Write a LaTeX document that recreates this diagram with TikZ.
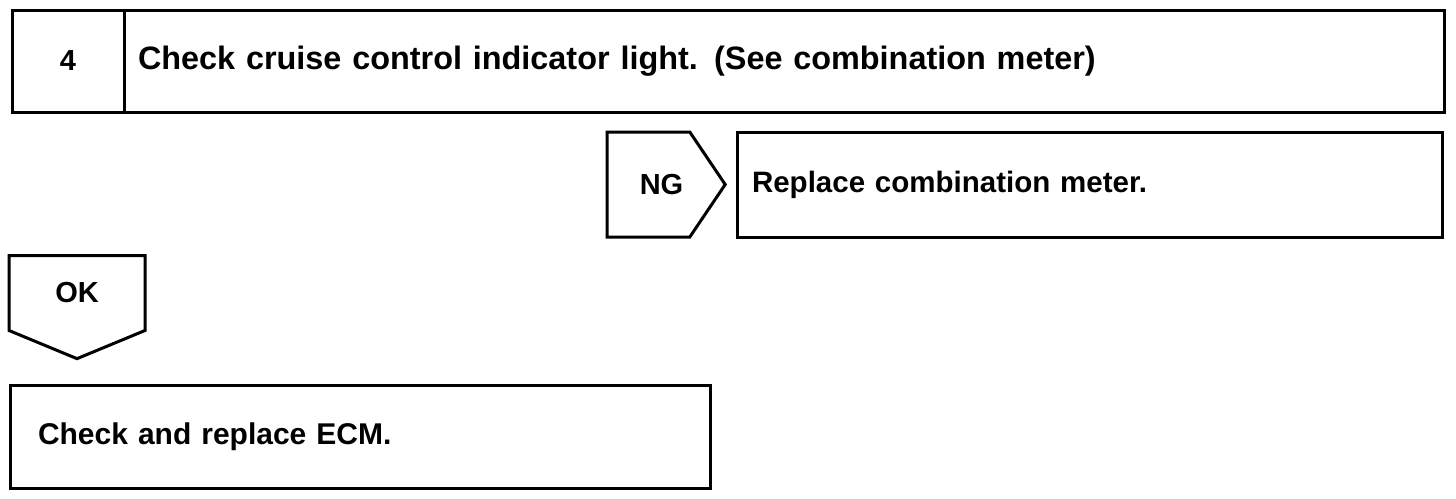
\documentclass[tikz,border=0pt]{standalone}
\usepackage{fontspec}
\setmainfont{Liberation Sans}
\usetikzlibrary{positioning,shapes.symbols}
\tikzset{
  tr-box/.style={
    draw=black, line width=3pt, fill=white,
    font=\fontsize{32.4}{36}\selectfont\bfseries,
    inner sep=0pt, minimum height=102pt
  },
  tr-step/.style={tr-box, minimum width=112pt, align=center,
    font=\fontsize{29}{32}\selectfont\bfseries},
  tr-text/.style={tr-box, align=left, inner xsep=12pt},
  tr-ng/.style={tr-box, signal, signal to=east, signal pointer angle=112,
    minimum width=118pt, minimum height=105pt,
    font=\fontsize{29}{32}\selectfont\bfseries},
  tr-ok/.style={tr-box, signal, signal to=south, signal pointer angle=135,
    minimum width=136pt, minimum height=84pt,
    font=\fontsize{29}{32}\selectfont\bfseries}
}
\begin{document}
\begin{tikzpicture}[node distance=10pt and 10pt]
\useasboundingbox (0,0) rectangle (1456pt,-498pt);

% step 4
\node[tr-step] (num) at (68pt,-61pt) {4};
\node[tr-text, right=-3pt of num, text width=1292pt, inner xsep=14pt] (check)
  {Check cruise control indicator light. (See combination meter)};

% NG branch
\node[tr-ng] (ng) at (648.5pt,-184.5pt) {\hspace*{26pt}NG};
\node[tr-text, right=8.5pt of ng, minimum height=105pt, inner xsep=15pt,
  text width=675pt, font=\fontsize{29.5}{32}\selectfont\bfseries] (meter)
  {Replace combination meter.};

% OK branch
\node[tr-ok] (ok) at (77pt,-293pt) {OK};
\node[tr-text, below=52pt of ok.south west, anchor=north west, xshift=1pt,
  minimum height=103pt, inner xsep=28pt, text width=644pt,
  font=\fontsize{30}{34}\selectfont\bfseries] (ecm)
  {Check and replace ECM.};
\end{tikzpicture}
\end{document}
